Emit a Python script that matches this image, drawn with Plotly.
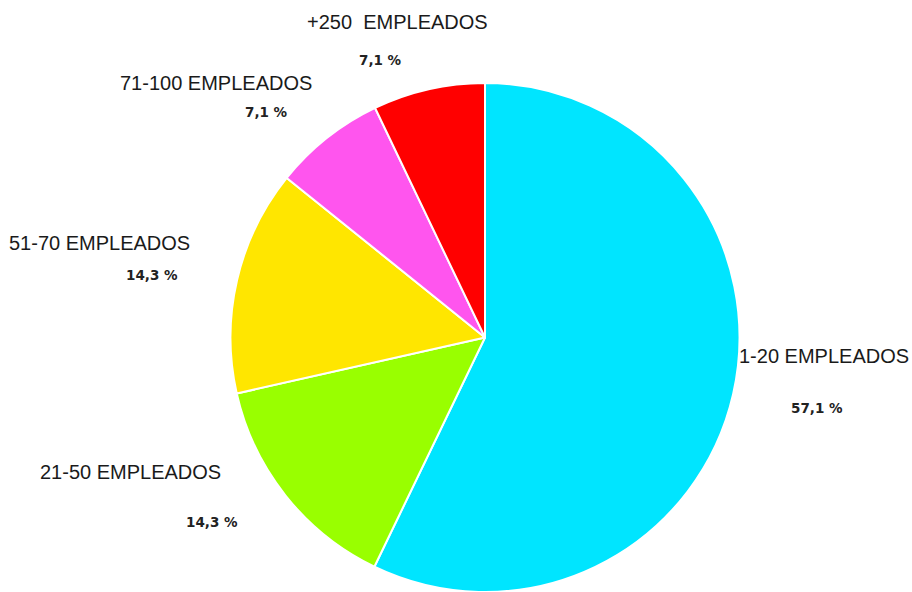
import plotly.graph_objects as go

# Company size distribution (share of companies, %)
categories = ["1-20 EMPLEADOS", "21-50 EMPLEADOS", "51-70 EMPLEADOS",
              "71-100 EMPLEADOS", "+250  EMPLEADOS"]
shares = [57.1, 14.3, 14.3, 7.1, 7.1]
colors = ["#00E5FF", "#99FF00", "#FFE600", "#FF55EE", "#FF0000"]

# Label anchor points (pixels from top-left of the 912x592 canvas)
name_pos = [(827, 356), (130, 472), (99, 243), (216, 83), (397, 22)]
pct_pos = [(817, 408), (212, 522), (152, 275), (266, 112), (380, 60)]

W, H = 912, 592

fig = go.Figure(go.Pie(
    labels=categories,
    values=shares,
    marker=dict(colors=colors, line=dict(color="white", width=2)),
    sort=False,
    direction="clockwise",
    rotation=0,
    textinfo="none",
    hoverinfo="label+percent",
    showlegend=False,
    domain=dict(x=[230 / W, 740 / W], y=[0, 1 - 83 / H]),
))

annotations = []
for i, (name, val, (nx, ny), (px, py)) in enumerate(zip(categories, shares, name_pos, pct_pos)):
    # the right-hand label sits flush against the canvas edge
    if i == 0:
        ax, anchor = (W - 1) / W, "right"
    else:
        ax, anchor = nx / W, "center"
    annotations.append(dict(
        x=ax, y=1 - ny / H, xref="paper", yref="paper",
        text=name, showarrow=False, xanchor=anchor, yanchor="middle",
        font=dict(family="Liberation Sans, Arial, sans-serif", size=20, color="#1a1a1a"),
    ))
    annotations.append(dict(
        x=px / W, y=1 - py / H, xref="paper", yref="paper",
        text=f"<b>{val:.1f}".replace(".", ",") + " %</b>",
        showarrow=False, xanchor="center", yanchor="middle",
        font=dict(family="DejaVu Sans, sans-serif", size=13.5, color="#222222"),
    ))

fig.update_layout(
    width=W, height=H,
    margin=dict(l=0, r=0, t=0, b=0),
    paper_bgcolor="white",
    plot_bgcolor="white",
    annotations=annotations,
)

fig.write_html("out.html")
